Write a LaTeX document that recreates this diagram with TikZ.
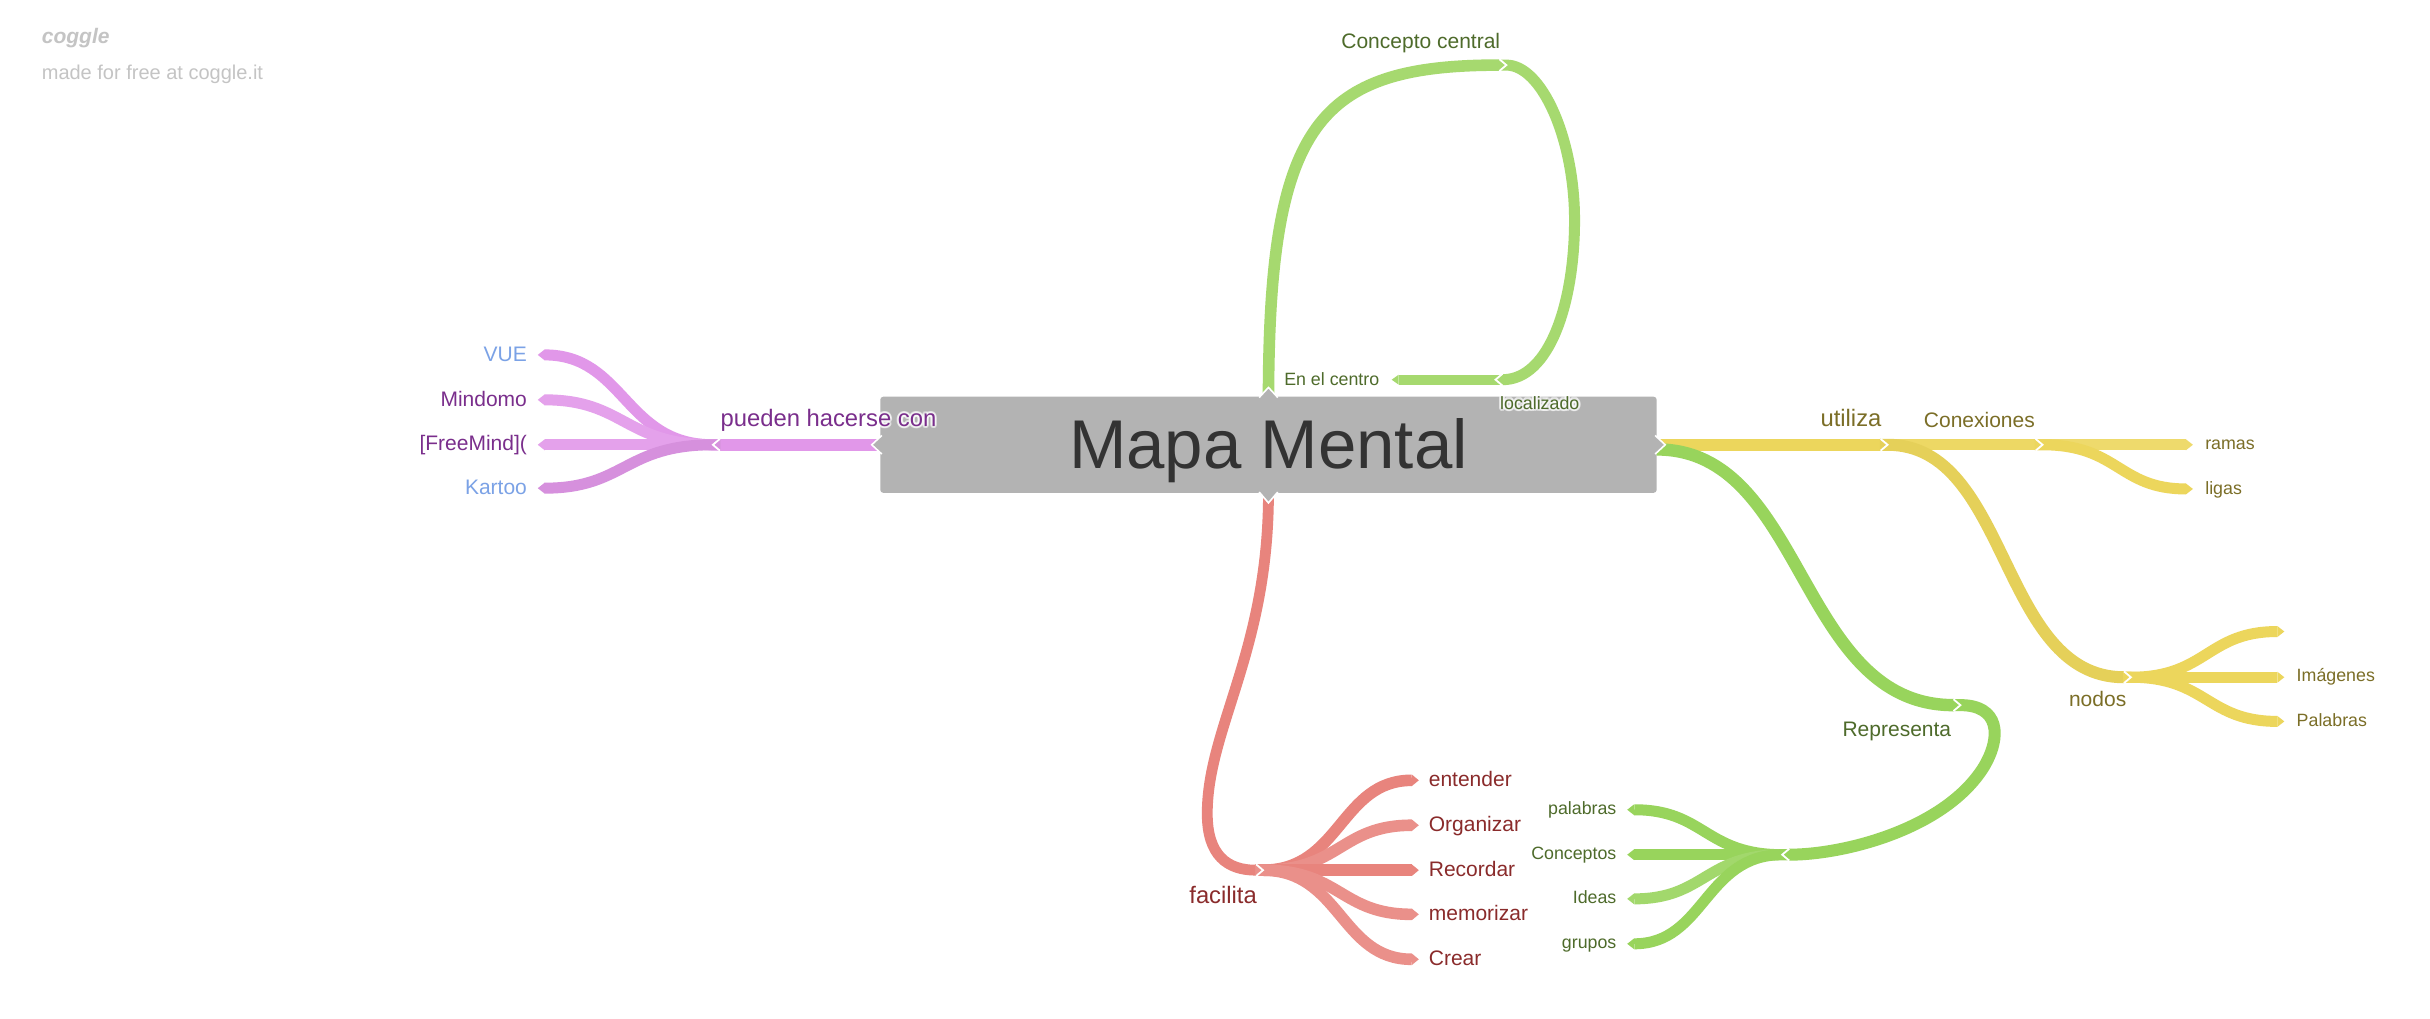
\documentclass[tikz,border=0pt]{standalone}
\usepackage{fontspec}
\setmainfont{Liberation Sans}
\usetikzlibrary{arrows.meta,calc}
\definecolor{boxgray}{HTML}{B3B3B3}
\definecolor{txtdark}{HTML}{333333}
\definecolor{pinkbr}{HTML}{E197E9}
\definecolor{purpletx}{HTML}{7A2E8C}
\definecolor{bluetx}{HTML}{7BA2E6}
\definecolor{greenA}{HTML}{A6D96F}
\definecolor{greenB}{HTML}{98D45C}
\definecolor{greentx}{HTML}{4E6B2B}
\definecolor{yellowbr}{HTML}{ECD65C}
\definecolor{olivetx}{HTML}{7B6E27}
\definecolor{redbr}{HTML}{E8847D}
\definecolor{redtx}{HTML}{8A2B2B}
\definecolor{logogray}{HTML}{C4C4C4}
\newcommand\fszA{\fontsize{11.9}{14}\selectfont}
\newcommand\fszB{\fontsize{10.5}{12.5}\selectfont}
\newcommand\fszC{\fontsize{8.9}{10.5}\selectfont}
\newcommand\chevL[2]{\draw[notch] (#1+4.5,#2-3.8) -- (#1,#2) -- (#1+4.5,#2+3.8);}
\newcommand\chevR[2]{\draw[notch] (#1-4.5,#2-3.8) -- (#1,#2) -- (#1-4.5,#2+3.8);}
\begin{document}
\begin{tikzpicture}[x=0.77485pt,y=-0.77485pt,
  lbl/.style={inner sep=0pt,outer sep=0pt},
  br/.style={line width=#1,-{Triangle[length=3.5pt,width=#1,line width=0pt]}},
  br/.default=5.5pt,
  notch/.style={white,line width=0.9pt,line join=miter,line cap=butt},
  halo/.style={lbl,text=white,opacity=0.4},
  boxtip/.style={fill=boxgray},
  boxtipedge/.style={white,line width=0.8pt}]
\useasboundingbox[fill=white] (0,0) rectangle (1568,657);

% logo
\node[lbl,anchor=base west,text=logogray,font=\fontsize{10.5}{13}\selectfont\bfseries\itshape] (logo) at (27,28) {coggle};
\node[lbl,anchor=base west,text=logogray,font=\fontsize{10}{12}\selectfont] (made) at (27,51) {made for free at coggle.it};

% central box
\node[fill=boxgray,rounded corners=1.5pt,minimum width=388.2pt,minimum height=48.04pt,inner sep=0pt] (mm) at (818.5,287) {};

% coordinates
\coordinate (pJ) at (460,287);   \coordinate (pJs) at (465,287);
\coordinate (vue) at (347,229);  \coordinate (mind) at (347,258);
\coordinate (fm) at (347,287);   \coordinate (kar) at (347,315);
\coordinate (cc) at (972,42);    \coordinate (ccs) at (967,42);
\coordinate (locb) at (1016,142);
\coordinate (loc) at (965,245);  \coordinate (locs) at (970,245);
\coordinate (enc) at (898,245);
\coordinate (ut) at (1218,287);  \coordinate (uts) at (1213,287);
\coordinate (cx) at (1318,287);  \coordinate (cxs) at (1313,287);
\coordinate (ram) at (1415,287); \coordinate (lig) at (1415,315.5);
\coordinate (nod) at (1375,437); \coordinate (nods) at (1370,437);
\coordinate (nA) at (1474,407.5); \coordinate (img) at (1474,437);
\coordinate (palY) at (1474,465.5);
\coordinate (gst) at (1069,290);
\coordinate (rep) at (1265,455); \coordinate (reps) at (1260,455);
\coordinate (loopm) at (1280,495);
\coordinate (gJ) at (1150,551.5); \coordinate (gJs) at (1155,551.5);
\coordinate (gpal) at (1050,522.5); \coordinate (gcon) at (1050,551.5);
\coordinate (gide) at (1050,580);   \coordinate (ggru) at (1050,609);
\coordinate (rmid) at (779,525);
\coordinate (fJ) at (815,561.5); \coordinate (fJs) at (810,561.5);
\coordinate (ent) at (915.5,503.5); \coordinate (org) at (915.5,532.5);
\coordinate (rec) at (915.5,561.5); \coordinate (mem) at (915.5,590);
\coordinate (cre) at (915.5,619);

% pink branch
\draw[pinkbr,br=6.2pt] (mm.west) -- (pJ);
\draw[pinkbr,br] (pJs) -- (pJ) .. controls (403,287) and (403,229) .. (vue);
\draw[pinkbr!90!white,br] (pJs) -- (pJ) .. controls (403,287) and (403,258) .. (mind);
\draw[pinkbr!90!white,br] (pJs) -- (fm);
\draw[pinkbr!95!black,br] (pJs) -- (pJ) .. controls (403,287) and (403,315) .. (kar);

% top green branch
\draw[greenA,br=5.8pt] (mm.north) .. controls (819,80) and (850,42) .. (cc);
\draw[greenA,br=5.5pt] (ccs) -- (cc) .. controls (995,42) and (1016,90) .. (locb)
   .. controls (1016,195) and (1000,245) .. (loc);
\draw[greenA,br=5pt] (locs) -- (enc);

% yellow branch
\draw[yellowbr,br=6.2pt] (mm.east) -- (ut);
\draw[yellowbr!95!white,br] (uts) -- (cx);
\draw[yellowbr!90!white,br] (cxs) -- (ram);
\draw[yellowbr,br] (cxs) -- (cx) .. controls (1367,287) and (1367,315.5) .. (lig);
\draw[yellowbr!97!black,br=6pt] (uts) -- (ut) .. controls (1297,287) and (1290,437) .. (nod);
\draw[yellowbr,br] (nods) -- (nod) .. controls (1424,437) and (1424,407.5) .. (nA);
\draw[yellowbr,br] (nods) -- (img);
\draw[yellowbr,br] (nods) -- (nod) .. controls (1424,437) and (1424,465.5) .. (palY);

% green "Representa" branch
\draw[greenB,br=6.2pt] (gst) .. controls (1165,290) and (1160,455) .. (rep);
\draw[greenB,br=6pt] (reps) -- (rep) .. controls (1290,455) and (1292,475) .. (loopm)
   .. controls (1255,535) and (1190,551.5) .. (gJ);
\draw[greenB,br] (gJs) -- (gJ) .. controls (1100,551.5) and (1100,522.5) .. (gpal);
\draw[greenB,br] (gJs) -- (gcon);
\draw[greenB!90!white,br] (gJs) -- (gJ) .. controls (1100,551.5) and (1100,580) .. (gide);
\draw[greenB,br] (gJs) -- (gJ) .. controls (1100,551.5) and (1100,609) .. (ggru);

% red branch
\draw[redbr,br=5.4pt] (mm.south) .. controls (818.5,420) and (779,470) .. (rmid)
   .. controls (779,552) and (792,561.5) .. (fJ);
\draw[redbr,br=5.8pt] (fJs) -- (fJ) .. controls (865,561.5) and (865,503.5) .. (ent);
\draw[redbr!90!white,br=5.8pt] (fJs) -- (fJ) .. controls (865,561.5) and (865,532.5) .. (org);
\draw[redbr,br=5.8pt] (fJs) -- (rec);
\draw[redbr!90!white,br=5.8pt] (fJs) -- (fJ) .. controls (865,561.5) and (865,590) .. (mem);
\draw[redbr!90!white,br=5.8pt] (fJs) -- (fJ) .. controls (865,561.5) and (865,619) .. (cre);

% box tips
\fill[boxtip] (569,281) -- (562.5,287) -- (569,293) -- cycle;
\draw[boxtipedge] (569,281) -- (562.5,287) -- (569,293);
\fill[boxtip] (1068,281) -- (1074.5,287) -- (1068,293) -- cycle;
\draw[boxtipedge] (1068,281) -- (1074.5,287) -- (1068,293);
\fill[boxtip] (812.5,256.5) -- (818.5,250) -- (824.5,256.5) -- cycle;
\draw[boxtipedge] (812.5,256.5) -- (818.5,250) -- (824.5,256.5);
\fill[boxtip] (812.5,317.5) -- (818.5,324.5) -- (824.5,317.5) -- cycle;
\draw[boxtipedge] (812.5,317.5) -- (818.5,324.5) -- (824.5,317.5);

% notches at junctions
\chevL{460}{287}
\chevR{972}{42}
\chevL{965}{245}
\chevR{1218}{287}
\chevR{1318}{287}
\chevR{1375}{437}
\chevR{1265}{455}
\chevL{1150}{551.5}
\chevR{815}{561.5}

% central text
\node[lbl,anchor=base,text=txtdark,font=\fontsize{34.5}{40}\selectfont] (mmt) at (818.5,302) {Mapa Mental};

% labels over the box with a white glow
\foreach \a in {0,30,...,330}{
  \node[halo,anchor=base west,font=\fszA] (hpa\a) at ($(465,275)+(\a:1.4)$) {pueden hacerse con};
  \node[halo,anchor=base west,font=\fszC] (hlo\a) at ($(968,264)+(\a:1.4)$) {localizado};
}

% labels
\node[lbl,anchor=base west,text=purpletx,font=\fszA] (lpu) at (465,275) {pueden hacerse con};
\node[lbl,anchor=base east,text=bluetx,font=\fszB] (lvue) at (340,233) {VUE};
\node[lbl,anchor=base east,text=purpletx,font=\fszB] (lmind) at (340,262) {Mindomo};
\node[lbl,anchor=base east,text=purpletx,font=\fszB] (lfm) at (340,291) {[FreeMind](};
\node[lbl,anchor=base east,text=bluetx,font=\fszB] (lkar) at (340,319) {Kartoo};

\node[lbl,anchor=base east,text=greentx,font=\fszB] (lcc) at (968,31) {Concepto central};
\node[lbl,anchor=base west,text=greentx,font=\fszC] (lloc) at (968,264) {localizado};
\node[lbl,anchor=base east,text=greentx,font=\fszC] (lenc) at (890,248.5) {En el centro};

\node[lbl,anchor=base east,text=olivetx,font=\fszA] (lut) at (1214,275) {utiliza};
\node[lbl,anchor=base east,text=olivetx,font=\fszB] (lcx) at (1313,276) {Conexiones};
\node[lbl,anchor=base west,text=olivetx,font=\fszC] (lram) at (1423,290.3) {ramas};
\node[lbl,anchor=base west,text=olivetx,font=\fszC] (llig) at (1423,318.8) {ligas};
\node[lbl,anchor=base east,text=olivetx,font=\fszB] (lnod) at (1372,456) {nodos};
\node[lbl,anchor=base west,text=olivetx,font=\fszC] (limg) at (1482,440) {Imágenes};
\node[lbl,anchor=base west,text=olivetx,font=\fszC] (lpalY) at (1482,468.8) {Palabras};

\node[lbl,anchor=base east,text=greentx,font=\fszB] (lrep) at (1259,475) {Representa};
\node[lbl,anchor=base east,text=greentx,font=\fszC] (lgpal) at (1043,525.8) {palabras};
\node[lbl,anchor=base east,text=greentx,font=\fszC] (lgcon) at (1043,554.8) {Conceptos};
\node[lbl,anchor=base east,text=greentx,font=\fszC] (lgide) at (1043,583.3) {Ideas};
\node[lbl,anchor=base east,text=greentx,font=\fszC] (lggru) at (1043,612.3) {grupos};

\node[lbl,anchor=base east,text=redtx,font=\fszA] (lfac) at (811,583) {facilita};
\node[lbl,anchor=base west,text=redtx,font=\fszB] (lent) at (922,507.5) {entender};
\node[lbl,anchor=base west,text=redtx,font=\fszB] (lorg) at (922,536.5) {Organizar};
\node[lbl,anchor=base west,text=redtx,font=\fszB] (lrec) at (922,565.5) {Recordar};
\node[lbl,anchor=base west,text=redtx,font=\fszB] (lmem) at (922,594) {memorizar};
\node[lbl,anchor=base west,text=redtx,font=\fszB] (lcre) at (922,623) {Crear};
\end{tikzpicture}
\end{document}
